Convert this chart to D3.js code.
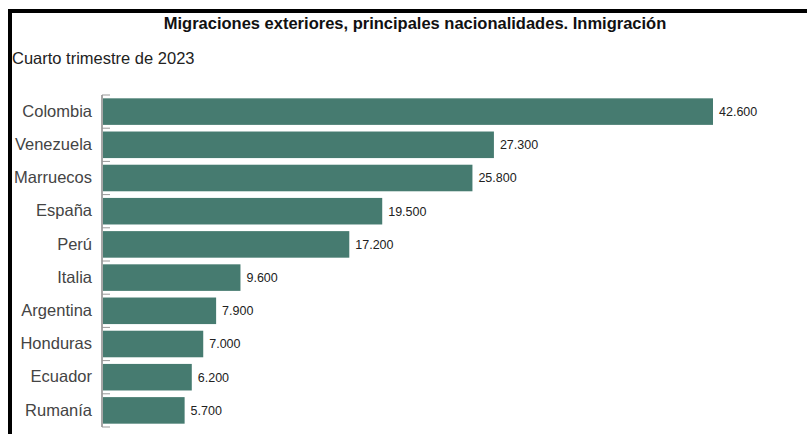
<!DOCTYPE html>
<html>
<head>
<meta charset="utf-8">
<script src="https://cdn.jsdelivr.net/npm/d3@7"></script>
<style>
  html, body { margin: 0; padding: 0; background: #fff; }
  svg { display: block; font-family: "Liberation Sans", Arial, sans-serif; }
</style>
</head>
<body>
<svg id="chart" width="807" height="434"></svg>
<script>
const categories = ["Colombia", "Venezuela", "Marruecos", "España", "Perú", "Italia", "Argentina", "Honduras", "Ecuador", "Rumanía"];
const values = [42600, 27300, 25800, 19500, 17200, 9600, 7900, 7000, 6200, 5700];
const valueLabels = ["42.600", "27.300", "25.800", "19.500", "17.200", "9.600", "7.900", "7.000", "6.200", "5.700"];
const title = "Migraciones exteriores, principales nacionalidades. Inmigración";
const subtitle = "Cuarto trimestre de 2023";

const svg = d3.select("#chart");

// frame (top and left black border)
svg.append("rect").attr("x", 8).attr("y", 9).attr("width", 799).attr("height", 4).attr("fill", "#000");
svg.append("rect").attr("x", 8).attr("y", 9).attr("width", 4).attr("height", 425).attr("fill", "#000");

svg.append("text").attr("x", 415).attr("y", 29).attr("text-anchor", "middle")
  .attr("font-size", 16.5).attr("font-weight", "bold").attr("fill", "#111").text(title);
svg.append("text").attr("x", 12).attr("y", 64)
  .attr("font-size", 16.5).attr("fill", "#222").text(subtitle);

const x = d3.scaleLinear().domain([0, d3.max(values)]).range([103, 713]);
const y = d3.scaleBand().domain(categories).range([95, 427]).paddingInner(0.2).paddingOuter(0.1);

const data = categories.map((c, i) => ({c, v: values[i], l: valueLabels[i]}));

svg.append("g").selectAll("rect").data(data).join("rect")
  .attr("x", x(0)).attr("y", d => y(d.c))
  .attr("width", d => x(d.v) - x(0)).attr("height", y.bandwidth())
  .attr("fill", "#467b70");

svg.append("g").selectAll("text").data(data).join("text")
  .attr("x", d => x(d.v) + 6).attr("y", d => y(d.c) + y.bandwidth() / 2)
  .attr("dy", "0.35em").attr("font-size", 12.5).attr("fill", "#222").text(d => d.l);

// category axis labels
const yAxis = svg.append("g").attr("transform", "translate(102,0)")
  .call(d3.axisLeft(y).tickSize(0).tickPadding(10));
yAxis.select(".domain").remove();
yAxis.selectAll("text").attr("font-size", 16.5).attr("fill", "#444").attr("font-family", "Liberation Sans, Arial, sans-serif");

// axis line with band-boundary ticks
const gap = y.step() * y.paddingInner() / 2;
const bounds = categories.map(c => y(c) - gap).concat([y(categories[categories.length - 1]) + y.bandwidth() + gap]);
svg.append("line").attr("x1", 102).attr("x2", 102).attr("y1", bounds[0]).attr("y2", bounds[bounds.length - 1])
  .attr("stroke", "#888").attr("stroke-width", 1.5);
svg.append("g").selectAll("line").data(bounds).join("line")
  .attr("x1", 102).attr("x2", 110).attr("y1", d => d).attr("y2", d => d)
  .attr("stroke", "#999").attr("stroke-width", 1);
</script>
</body>
</html>
